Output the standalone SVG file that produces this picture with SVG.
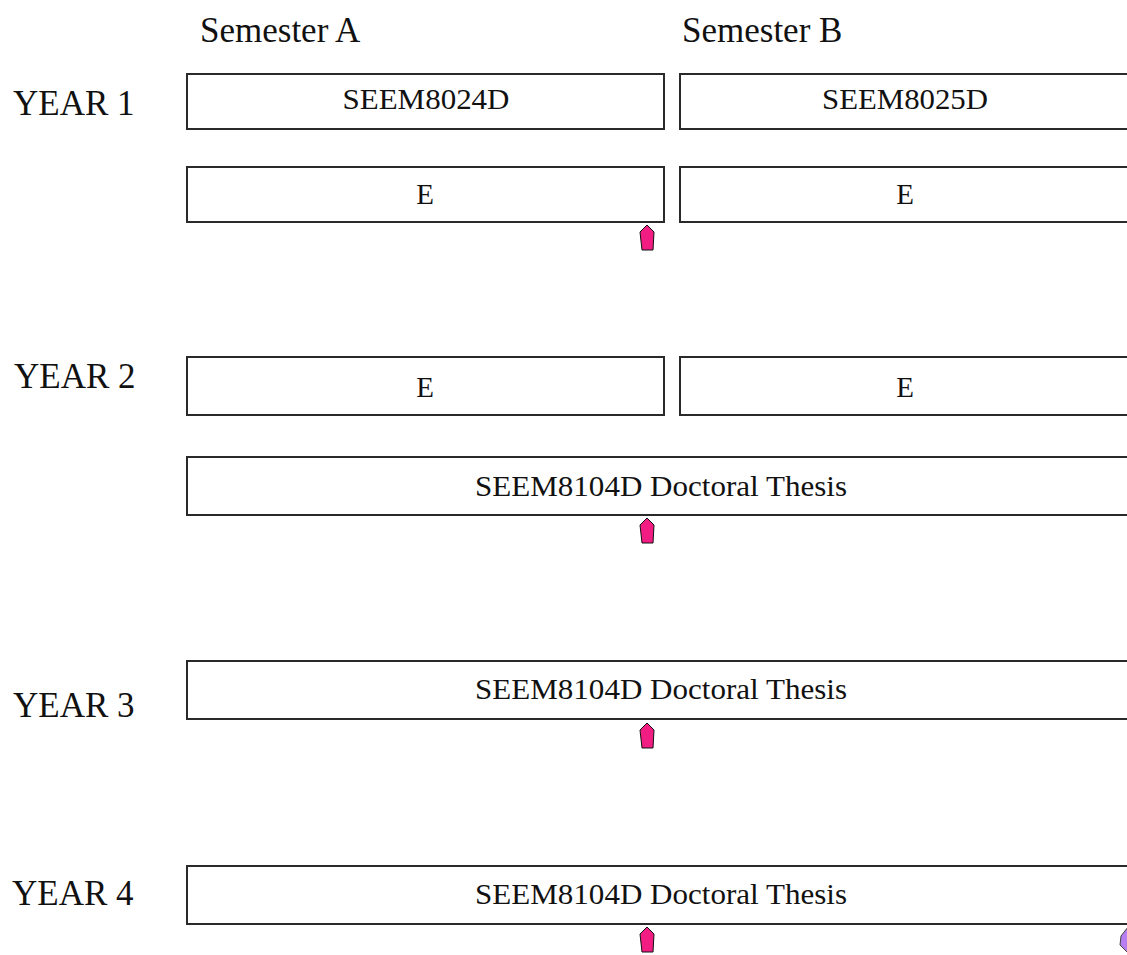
<svg xmlns="http://www.w3.org/2000/svg" width="1127" height="955" viewBox="0 0 1127 955">
<style>
.bg{fill:#ffffff}
.box{fill:#ffffff;stroke:#2a2a2a;stroke-width:2}
.hdr{font-family:"Liberation Serif","Times New Roman",serif;font-size:35px;fill:#111}
.lbl{font-family:"Liberation Serif","Times New Roman",serif;font-size:29px;fill:#111;text-anchor:middle}
.pin{fill:#f21d83;stroke:#111;stroke-width:1}
.pin2{fill:#b77ef2;stroke:#444;stroke-width:1}
</style>
<defs>
<polygon id="pent" points="0,0 7,7 6,25 -5,25 -7,7"/>
</defs>
<rect class="bg" x="0" y="0" width="1127" height="955"/>
<g id="headers">
<text class="hdr" x="200" y="42">Semester A</text>
<text class="hdr" x="682" y="42">Semester B</text>
<text class="hdr" x="13" y="115">YEAR 1</text>
<text class="hdr" x="14" y="388">YEAR 2</text>
<text class="hdr" x="13" y="717">YEAR 3</text>
<text class="hdr" x="12" y="905">YEAR 4</text>
</g>
<g id="y1-seem8024d">
<rect class="box" x="187" y="74" width="477" height="55"/>
<text class="lbl" x="426" y="109" textLength="167" lengthAdjust="spacingAndGlyphs">SEEM8024D</text>
</g>
<g id="y1-seem8025d">
<rect class="box" x="680" y="74" width="460" height="55"/>
<text class="lbl" x="905" y="109" textLength="166" lengthAdjust="spacingAndGlyphs">SEEM8025D</text>
</g>
<g id="y1-e-a">
<rect class="box" x="187" y="167" width="477" height="55"/>
<text class="lbl" x="425" y="204">E</text>
</g>
<g id="y1-e-b">
<rect class="box" x="680" y="167" width="460" height="55"/>
<text class="lbl" x="905" y="204">E</text>
</g>
<g id="y2-e-a">
<rect class="box" x="187" y="357" width="477" height="58"/>
<text class="lbl" x="425" y="397">E</text>
</g>
<g id="y2-e-b">
<rect class="box" x="680" y="357" width="460" height="58"/>
<text class="lbl" x="905" y="397">E</text>
</g>
<g id="y2-thesis">
<rect class="box" x="187" y="457" width="960" height="58"/>
<text class="lbl" x="661" y="496" textLength="372" lengthAdjust="spacingAndGlyphs">SEEM8104D Doctoral Thesis</text>
</g>
<g id="y3-thesis">
<rect class="box" x="187" y="661" width="960" height="58"/>
<text class="lbl" x="661" y="699" textLength="372" lengthAdjust="spacingAndGlyphs">SEEM8104D Doctoral Thesis</text>
</g>
<g id="y4-thesis">
<rect class="box" x="187" y="866" width="960" height="58"/>
<text class="lbl" x="661" y="904" textLength="372" lengthAdjust="spacingAndGlyphs">SEEM8104D Doctoral Thesis</text>
</g>
<g id="markers">
<use href="#pent" class="pin" x="647" y="225"/>
<use href="#pent" class="pin" x="647" y="518"/>
<use href="#pent" class="pin" x="647" y="723"/>
<use href="#pent" class="pin" x="647" y="927"/>
<polygon class="pin2" points="1128,927 1121,936 1120,945 1128,953 1140,953 1140,927"/>
</g>
<g id="connectors"></g>
</svg>
